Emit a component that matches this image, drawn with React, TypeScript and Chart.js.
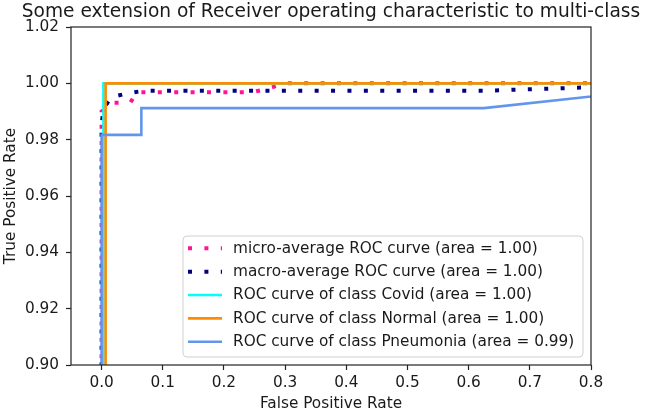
import React, { useEffect, useRef } from "react";
import { Chart, registerables } from "chart.js";

Chart.register(...registerables);

const titleText = "Some extension of Receiver operating characteristic to multi-class";
const xLabel = "False Positive Rate";
const yLabel = "True Positive Rate";

const xTicks = [0, 0.1, 0.2, 0.3, 0.4, 0.5, 0.6, 0.7, 0.8];
const yTicks = [0.9, 0.92, 0.94, 0.96, 0.98, 1.0, 1.02];

const microFpr = [0, 0, 0.021, 0.047, 0.057, 0.245, 0.27, 0.3, 1.0];
const microTpr = [0.85, 0.99, 0.9931, 0.9931, 0.9968, 0.9968, 0.998, 1.0, 1.0];

const macroFpr = [0, 0, 0.003, 0.016, 0.044, 0.07, 0.63, 1.0];
const macroTpr = [0.85, 0.985, 0.991, 0.9951, 0.9965, 0.9974, 0.9974, 1.0];

const covidFpr = [0.003, 0.003, 1.0];
const covidTpr = [0.85, 1.0, 1.0];

const normalFpr = [0.0066, 0.0066, 1.0];
const normalTpr = [0.85, 1.0, 1.0];

const pneuFpr = [0, 0, 0.065, 0.065, 0.625, 1.0];
const pneuTpr = [0.85, 0.9817, 0.9817, 0.9912, 0.9912, 1.0];

const legendLabels = [
  "micro-average ROC curve (area = 1.00)",
  "macro-average ROC curve (area = 1.00)",
  "ROC curve of class Covid (area = 1.00)",
  "ROC curve of class Normal (area = 1.00)",
  "ROC curve of class Pneumonia (area = 0.99)",
];
const seriesColors = ["#ff1493", "#000080", "#00ffff", "#ff8c00", "#6495ed"];

const FONT = "'DejaVu Sans', sans-serif";
const TEXT = "#1a1a1a";
const FS = 15.3;

const pts = (xs: number[], ys: number[]) => xs.map((x, i) => ({ x, y: ys[i] }));

const overlay = {
  id: "overlay",
  afterDraw(chart: any) {
    const { ctx, chartArea } = chart;
    const { left, right, top, bottom } = chartArea;
    ctx.save();
    // frame
    ctx.strokeStyle = "#222";
    ctx.lineWidth = 1.2;
    ctx.strokeRect(left, top, right - left, bottom - top);
    // title
    ctx.fillStyle = TEXT;
    ctx.font = `18.6px ${FONT}`;
    ctx.textAlign = "center";
    ctx.textBaseline = "middle";
    ctx.fillText(titleText, (left + right) / 2, 12);
    // axis labels
    ctx.font = `${FS}px ${FONT}`;
    ctx.fillText(xLabel, (left + right) / 2, 404);
    ctx.save();
    ctx.translate(11, (top + bottom) / 2);
    ctx.rotate(-Math.PI / 2);
    ctx.fillText(yLabel, 0, 0);
    ctx.restore();
    // legend
    const bx = 183, by = 236, bw = 400, bh = 121;
    ctx.beginPath();
    ctx.roundRect(bx, by, bw, bh, 4);
    ctx.fillStyle = "rgba(255,255,255,0.85)";
    ctx.fill();
    ctx.strokeStyle = "#d0d0d0";
    ctx.lineWidth = 1;
    ctx.stroke();
    ctx.font = `${FS}px ${FONT}`;
    ctx.textAlign = "left";
    legendLabels.forEach((lab, i) => {
      const cy = 248.3 + i * 23.35;
      ctx.strokeStyle = seriesColors[i];
      if (i < 2) {
        ctx.lineWidth = 4;
        ctx.setLineDash([4, 12.4]);
        ctx.lineCap = "butt";
      } else {
        ctx.lineWidth = 2.6;
        ctx.setLineDash([]);
      }
      ctx.beginPath();
      ctx.moveTo(188, cy);
      ctx.lineTo(222, cy);
      ctx.stroke();
      ctx.setLineDash([]);
      ctx.fillStyle = TEXT;
      ctx.fillText(lab, 233, cy + 0.5);
    });
    ctx.restore();
  },
};

export default function App() {
  const ref = useRef<HTMLCanvasElement | null>(null);
  useEffect(() => {
    if (!ref.current) return;
    const dotted = { borderWidth: 4, borderDash: [4, 12.4], borderCapStyle: "butt" };
    const chart = new Chart(ref.current, {
      type: "line",
      data: {
        datasets: [
          { label: legendLabels[0], data: pts(microFpr, microTpr), borderColor: seriesColors[0], order: 5, ...dotted, borderDashOffset: 0 },
          { label: legendLabels[1], data: pts(macroFpr, macroTpr), borderColor: seriesColors[1], order: 4, ...dotted, borderDashOffset: 8 },
          { label: legendLabels[2], data: pts(covidFpr, covidTpr), borderColor: seriesColors[2], borderWidth: 2.6, order: 3 },
          { label: legendLabels[3], data: pts(normalFpr, normalTpr), borderColor: seriesColors[3], borderWidth: 2.6, order: 2 },
          { label: legendLabels[4], data: pts(pneuFpr, pneuTpr), borderColor: seriesColors[4], borderWidth: 2.6, order: 1 },
        ] as any,
      },
      options: {
        animation: false,
        responsive: false,
        maintainAspectRatio: false,
        devicePixelRatio: 1,
        elements: { point: { radius: 0 }, line: { tension: 0, fill: false } },
        layout: { padding: { left: 0, right: 54, top: 27, bottom: 0 } },
        plugins: { legend: { display: false }, title: { display: false }, tooltip: { enabled: false } },
        scales: {
          x: {
            type: "linear",
            min: -0.05,
            max: 0.8,
            afterBuildTicks: (s: any) => { s.ticks = xTicks.map((v) => ({ value: v })); },
            afterFit: (s: any) => { s.height = 49; },
            grid: { drawOnChartArea: false, drawTicks: true, tickLength: 5, tickColor: "#222", tickWidth: 1.2 },
            border: { display: false },
            ticks: { color: TEXT, font: { family: FONT, size: FS }, padding: 4, maxRotation: 0, autoSkip: false, callback: (v: any) => Number(v).toFixed(1) },
          },
          y: {
            type: "linear",
            min: 0.9,
            max: 1.02,
            afterBuildTicks: (s: any) => { s.ticks = yTicks.map((v) => ({ value: v })); },
            afterFit: (s: any) => { s.width = 71; },
            grid: { drawOnChartArea: false, drawTicks: true, tickLength: 5, tickColor: "#222", tickWidth: 1.2 },
            border: { display: false },
            ticks: { color: TEXT, font: { family: FONT, size: FS }, padding: 7, autoSkip: false, callback: (v: any) => Number(v).toFixed(2) },
          },
        },
      } as any,
      plugins: [overlay],
    });
    return () => chart.destroy();
  }, []);
  return (
    <div style={{ position: "fixed", left: 0, top: 0, width: 645, height: 414, background: "#fff" }}>
      <canvas ref={ref} width={645} height={414} style={{ display: "block", width: 645, height: 414 }} />
    </div>
  );
}
